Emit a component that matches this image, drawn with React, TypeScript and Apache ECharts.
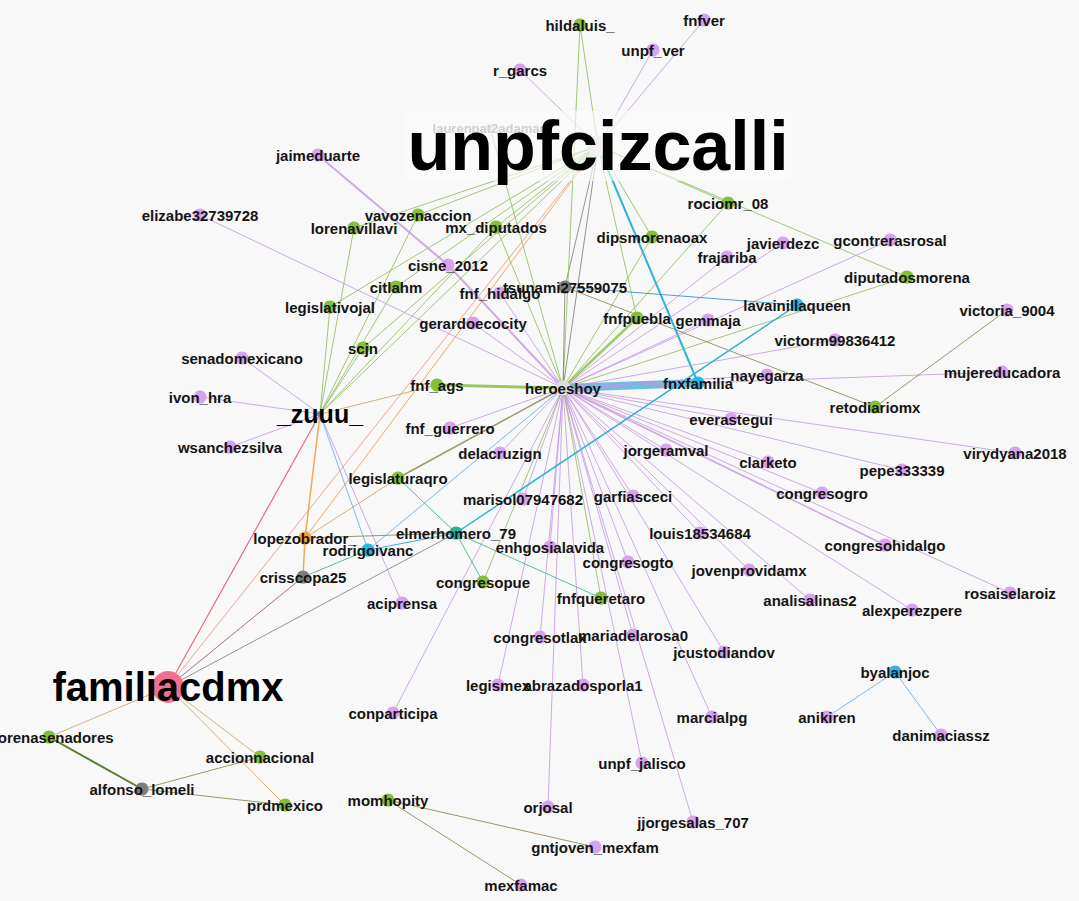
import React, { useEffect, useRef } from "react";
import * as echarts from "echarts";

// Node table: name, x, y (pixel-space layout of the network), group
const nodeNames = [
  "laurenpat2adaman", "unpfcizcalli", "heroeshoy", "familiacdmx", "_zuuu_",
  "hildaluis_", "fnfver", "unpf_ver", "r_garcs", "jaimeduarte", "elizabe32739728",
  "vavozenaccion", "lorenavillavi", "mx_diputados", "cisne_2012", "citlahm", "fnf_hidalgo",
  "tsunami27559075", "legislativojal", "gerardoecocity", "scjn", "senadomexicano", "ivon_hra",
  "wsanchezsilva", "fnf_ags", "fnxfamilia", "fnf_guerrero", "delacruzign", "legislaturaqro",
  "marisol07947682", "garfiasceci", "jorgeramval", "everastegui", "clarketo", "pepe333339",
  "virydyana2018", "congresogro", "congresohidalgo", "louis18534684", "enhgosialavida",
  "congresogto", "elmerhomero_79", "lopezobrador_", "rodrigoivanc", "crisscopa25", "congresopue",
  "aciprensa", "fnfqueretaro", "jovenprovidamx", "analisalinas2", "alexperezpere", "rosaiselaroiz",
  "congresotlax", "mariadelarosa0", "jcustodiandov", "legismex", "abrazadosporla1", "conparticipa",
  "marcialpg", "byalanjoc", "anikiren", "danimaciassz", "rociomr_08", "dipsmorenaoax", "javierdezc",
  "frajariba", "gcontrerasrosal", "diputadosmorena", "lavainillaqueen", "gemmaja", "fnfpuebla",
  "victoria_9004", "victorm99836412", "nayegarza", "mujereducadora", "retodiariomx",
  "morenasenadores", "accionnacional", "alfonso_lomeli", "prdmexico", "momhopity", "mexfamac",
  "gntjoven_mexfam", "orjosal", "unpf_jalisco", "jjorgesalas_707",
];
const nodeX = [
  490, 598, 563, 168, 320,
  580, 704, 653, 520, 318, 200,
  418, 354, 496, 448, 396, 500,
  565, 330, 473, 363, 242, 200,
  230, 437, 698, 450, 500, 398,
  523, 633, 666, 731, 768, 902,
  1015, 822, 885, 700, 550,
  628, 456, 305, 368, 303, 483,
  402, 601, 749, 810, 912, 1010,
  540, 633, 724, 498, 583, 393,
  712, 895, 827, 941, 728, 652, 783,
  727, 890, 907, 797, 708, 637,
  1007, 835, 767, 1002, 875,
  49, 260, 142, 285, 388, 521,
  595, 548, 642, 693,
];
const nodeY = [
  128, 146, 388, 687, 414,
  25, 20, 50, 70, 155, 215,
  215, 228, 227, 265, 287, 293,
  287, 307, 323, 348, 358, 397,
  447, 385, 383, 428, 453, 478,
  499, 496, 450, 419, 462, 470,
  453, 493, 545, 533, 547,
  562, 533, 538, 550, 577, 582,
  603, 598, 570, 600, 610, 593,
  637, 635, 652, 685, 685, 713,
  717, 672, 717, 735, 203, 237, 243,
  257, 240, 277, 305, 320, 318,
  310, 340, 375, 372, 407,
  737, 757, 789, 805, 800, 885,
  847, 807, 763, 822,
];
const nodeGroup = [
  "w", "w", "w", "r", "k",
  "g", "p", "p", "p", "p", "p",
  "g", "g", "g", "p", "g", "p",
  "k", "g", "p", "g", "p", "p",
  "p", "g", "c", "p", "p", "g",
  "p", "p", "p", "p", "p", "p",
  "p", "p", "p", "p", "p",
  "p", "t", "o", "c", "k", "g",
  "p", "g", "p", "p", "p", "p",
  "p", "p", "p", "p", "p", "p",
  "p", "c", "p", "p", "g", "g", "p",
  "p", "p", "g", "c", "p", "g",
  "p", "p", "p", "p", "g",
  "g", "g", "k", "g", "g", "p",
  "p", "p", "p", "p",
];

// Edges: source, target, colour key, width
const edgeList: [string, string, string, number][] = [
  ["unpfcizcalli", "hildaluis_", "G", 1], ["unpfcizcalli", "unpf_ver", "P", 1],
  ["unpfcizcalli", "fnfver", "P", 1], ["unpfcizcalli", "r_garcs", "P", 1],
  ["unpfcizcalli", "lorenavillavi", "G", 1], ["unpfcizcalli", "vavozenaccion", "G", 1],
  ["unpfcizcalli", "mx_diputados", "G", 1], ["unpfcizcalli", "citlahm", "G", 1],
  ["unpfcizcalli", "legislativojal", "G", 1], ["unpfcizcalli", "scjn", "G", 1],
  ["unpfcizcalli", "_zuuu_", "G", 1], ["unpfcizcalli", "dipsmorenaoax", "G", 1],
  ["unpfcizcalli", "rociomr_08", "G", 1], ["unpfcizcalli", "diputadosmorena", "G", 1],
  ["unpfcizcalli", "fnfpuebla", "G", 1], ["unpfcizcalli", "heroeshoy", "K", 1],
  ["unpfcizcalli", "tsunami27559075", "K", 1], ["unpfcizcalli", "fnxfamilia", "C", 2],
  ["unpfcizcalli", "familiacdmx", "S", 1], ["unpfcizcalli", "lopezobrador_", "O", 1],
  ["hildaluis_", "heroeshoy", "G", 1], ["laurenpat2adaman", "heroeshoy", "G", 1],
  ["_zuuu_", "legislativojal", "G", 1], ["_zuuu_", "lorenavillavi", "G", 1],
  ["_zuuu_", "citlahm", "G", 1], ["_zuuu_", "scjn", "G", 1],
  ["_zuuu_", "vavozenaccion", "G", 1], ["_zuuu_", "mx_diputados", "G", 1],
  ["_zuuu_", "fnf_ags", "T", 1], ["_zuuu_", "senadomexicano", "P", 1],
  ["_zuuu_", "ivon_hra", "P", 1], ["_zuuu_", "wsanchezsilva", "P", 1],
  ["_zuuu_", "lopezobrador_", "O", 1.5], ["_zuuu_", "rodrigoivanc", "B", 1],
  ["_zuuu_", "aciprensa", "P", 1], ["_zuuu_", "familiacdmx", "R", 1.2],
  ["heroeshoy", "fnxfamilia", "F", 8], ["heroeshoy", "fnf_ags", "A", 3],
  ["jaimeduarte", "cisne_2012", "P", 2], ["cisne_2012", "heroeshoy", "P", 2],
  ["heroeshoy", "fnf_hidalgo", "P", 1], ["heroeshoy", "gerardoecocity", "P", 1],
  ["heroeshoy", "elizabe32739728", "P", 1], ["heroeshoy", "tsunami27559075", "K", 1],
  ["heroeshoy", "dipsmorenaoax", "G", 1], ["heroeshoy", "rociomr_08", "G", 1],
  ["heroeshoy", "frajariba", "P", 1], ["heroeshoy", "javierdezc", "P", 1],
  ["heroeshoy", "gcontrerasrosal", "P", 1], ["heroeshoy", "diputadosmorena", "G", 1],
  ["heroeshoy", "gemmaja", "P", 1], ["heroeshoy", "fnfpuebla", "G", 2.5],
  ["heroeshoy", "victorm99836412", "P", 1], ["heroeshoy", "nayegarza", "P", 1],
  ["heroeshoy", "mujereducadora", "P", 1], ["heroeshoy", "everastegui", "P", 1],
  ["heroeshoy", "jorgeramval", "P", 1], ["heroeshoy", "clarketo", "P", 1],
  ["heroeshoy", "pepe333339", "P", 1], ["heroeshoy", "virydyana2018", "P", 1],
  ["heroeshoy", "congresogro", "P", 1], ["heroeshoy", "congresohidalgo", "P", 1.6],
  ["heroeshoy", "louis18534684", "P", 1], ["heroeshoy", "jovenprovidamx", "P", 1],
  ["heroeshoy", "analisalinas2", "P", 1], ["heroeshoy", "alexperezpere", "P", 1],
  ["heroeshoy", "rosaiselaroiz", "P", 1], ["heroeshoy", "garfiasceci", "P", 1],
  ["heroeshoy", "congresogto", "P", 1], ["heroeshoy", "marisol07947682", "P", 1],
  ["heroeshoy", "enhgosialavida", "P", 1], ["heroeshoy", "delacruzign", "P", 1],
  ["heroeshoy", "fnf_guerrero", "P", 1], ["heroeshoy", "congresotlax", "P", 1],
  ["heroeshoy", "mariadelarosa0", "P", 1], ["heroeshoy", "jcustodiandov", "P", 1],
  ["heroeshoy", "legismex", "P", 1], ["heroeshoy", "abrazadosporla1", "P", 1],
  ["heroeshoy", "conparticipa", "P", 1], ["heroeshoy", "marcialpg", "P", 1],
  ["heroeshoy", "unpf_jalisco", "P", 1], ["heroeshoy", "orjosal", "P", 1],
  ["heroeshoy", "jjorgesalas_707", "P", 1], ["heroeshoy", "fnfqueretaro", "G", 1],
  ["heroeshoy", "congresopue", "G", 1], ["heroeshoy", "legislaturaqro", "L", 1.5],
  ["heroeshoy", "rodrigoivanc", "B", 1], ["heroeshoy", "mx_diputados", "G", 1],
  ["tsunami27559075", "lavainillaqueen", "D", 1], ["tsunami27559075", "retodiariomx", "L", 1],
  ["lavainillaqueen", "elmerhomero_79", "C", 1.5], ["victoria_9004", "retodiariomx", "L", 1],
  ["elmerhomero_79", "legislaturaqro", "E", 1], ["elmerhomero_79", "congresopue", "E", 1],
  ["elmerhomero_79", "fnfqueretaro", "E", 1], ["elmerhomero_79", "rodrigoivanc", "C", 1],
  ["elmerhomero_79", "familiacdmx", "K", 1], ["elmerhomero_79", "lopezobrador_", "L", 1],
  ["legislaturaqro", "lopezobrador_", "T", 1], ["lopezobrador_", "crisscopa25", "O", 1.5],
  ["rodrigoivanc", "crisscopa25", "E", 1], ["crisscopa25", "familiacdmx", "M", 1],
  ["familiacdmx", "morenasenadores", "T", 1], ["familiacdmx", "accionnacional", "T", 1],
  ["familiacdmx", "prdmexico", "O", 1], ["morenasenadores", "alfonso_lomeli", "H", 2],
  ["alfonso_lomeli", "accionnacional", "L", 1], ["alfonso_lomeli", "prdmexico", "L", 1],
  ["momhopity", "gntjoven_mexfam", "L", 1], ["momhopity", "mexfamac", "L", 1],
  ["byalanjoc", "anikiren", "B", 1], ["byalanjoc", "danimaciassz", "B", 1],
];

const nodeColors: Record<string, string> = {
  g: "#86bf38", p: "#d7a3ef", c: "#2bb7e4", k: "#7c7c7c",
  r: "#f2708f", o: "#f5a03a", t: "#26b39a", w: "#dcdcdc",
};
const edgeColors: Record<string, string> = {
  G: "rgba(140,188,85,0.8)", P: "rgba(196,150,222,0.8)", C: "#2fb3d8",
  K: "rgba(115,115,115,0.75)", S: "rgba(236,150,130,0.85)", O: "rgba(238,160,70,0.9)",
  T: "rgba(205,170,110,0.9)", R: "#e56a86", B: "rgba(105,175,225,0.85)",
  F: "#6fbde0", A: "#9cc760", L: "rgba(130,130,70,0.8)", D: "rgba(60,140,190,0.85)",
  E: "rgba(60,180,130,0.85)", M: "rgba(160,90,120,0.85)", H: "#587d32",
};

const big: Record<string, { size: number; fontSize: number; offset: number[]; bg?: string; color?: string }> = {
  unpfcizcalli: { size: 22, fontSize: 70, offset: [4, -28], bg: "rgba(252,252,252,0.62)", color: "#000000" },
  familiacdmx: { size: 32, fontSize: 40, offset: [0, -10], color: "#000000" },
  _zuuu_: { size: 6, fontSize: 25, offset: [0, -9], color: "#000000" },
  heroeshoy: { size: 15, fontSize: 15, offset: [0, -5] },
  laurenpat2adaman: { size: 8, fontSize: 13, offset: [-12, -28], color: "#8a8a8a" },
};

export default function App() {
  const ref = useRef<HTMLDivElement>(null);
  useEffect(() => {
    document.body.style.margin = "0";
    const chart = echarts.init(ref.current!, null, { renderer: "svg" });
    const data = nodeNames.map((name, i) => {
      const b = big[name];
      return {
        name,
        value: [nodeX[i], nodeY[i]],
        symbolSize: b ? b.size : 13,
        itemStyle: { color: nodeColors[nodeGroup[i]] },
        label: {
          show: true,
          position: "inside",
          offset: b ? b.offset : [0, -3],
          fontSize: b ? b.fontSize : 15,
          color: b && b.color ? b.color : "#141414",
          backgroundColor: b && b.bg ? b.bg : "transparent",
          padding: b && b.bg ? [0, 2, 0, 2] : 0,
        },
      };
    });
    const links = edgeList.map(([s, t, c, w]) => ({
      source: s,
      target: t,
      lineStyle: { color: edgeColors[c], width: w, opacity: 1, curveness: 0 },
    }));
    chart.setOption({
      animation: false,
      backgroundColor: "#f8f8f8",
      grid: { left: 0, right: 0, top: 0, bottom: 0 },
      xAxis: { type: "value", min: 0, max: 1079, show: false },
      yAxis: { type: "value", min: 0, max: 901, inverse: true, show: false },
      series: [
        {
          type: "graph",
          coordinateSystem: "cartesian2d",
          layout: "none",
          silent: true,
          data,
          links,
          label: {
            show: true,
            fontFamily: "'Liberation Sans', Arial, sans-serif",
            fontWeight: "bold",
          },
          labelLayout: { hideOverlap: false },
          itemStyle: { borderWidth: 0 },
        },
      ],
    });
    return () => chart.dispose();
  }, []);
  return <div ref={ref} style={{ width: 1079, height: 901 }} />;
}
